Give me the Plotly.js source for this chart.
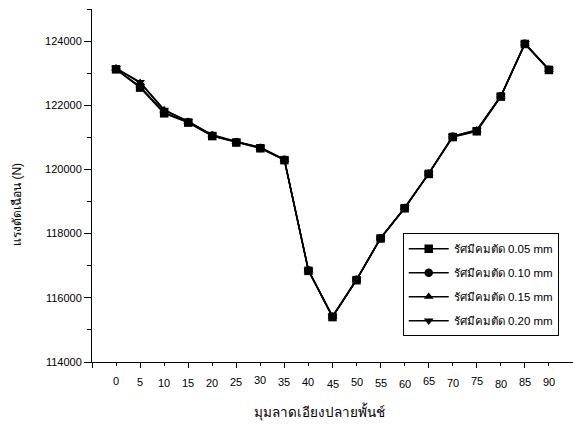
<!DOCTYPE html>
<html>
<head>
<meta charset="utf-8">
<script src="https://cdn.plot.ly/plotly-3.0.1.min.js"></script>
<style>
  html, body { margin: 0; padding: 0; background: #fff; }
  #chart { width: 573px; height: 430px; }
</style>
</head>
<body>
<div id="chart"></div>
<script>
// Punch bevel angle (degrees)
const angles = [0, 5, 10, 15, 20, 25, 30, 35, 40, 45, 50, 55, 60, 65, 70, 75, 80, 85, 90];
const angleLabels = ['0', '5', '10', '15', '20', '25', '30', '35', '40', '45', '50', '55', '60', '65', '70', '75', '80', '85', '90'];

// Shearing force (N) for each cutting-edge radius
const force005 = [123120, 122550, 121750, 121460, 121040, 120840, 120660, 120290, 116840, 115400, 116550, 117850, 118790, 119860, 121010, 121190, 122270, 123910, 123100];
const force010 = [123130, 122580, 121780, 121470, 121050, 120850, 120670, 120300, 116850, 115410, 116560, 117860, 118800, 119870, 121020, 121200, 122280, 123920, 123110];
const force015 = [123150, 122700, 121850, 121490, 121070, 120860, 120680, 120300, 116860, 115420, 116570, 117860, 118800, 119870, 121030, 121220, 122280, 123920, 123110];
const force020 = [123160, 122720, 121860, 121500, 121080, 120870, 120690, 120310, 116860, 115420, 116570, 117870, 118810, 119880, 121040, 121230, 122290, 123930, 123120];

const seriesNames = ['รัศมีคมตัด 0.05 mm', 'รัศมีคมตัด 0.10 mm', 'รัศมีคมตัด 0.15 mm', 'รัศมีคมตัด 0.20 mm'];
const seriesValues = [force005, force010, force015, force020];
const symbols = ['square', 'circle', 'triangle-up', 'triangle-down'];

// small vertical nudges of the hand-placed angle labels (px)
const labelNudge = [0, 0.7, 1.8, 1.8, 1.8, 1.1, -1.1, 1.1, 0.7, 2.6, 0.7, 2.2, 2.6, 0, 2.2, 0, 2.9, 0.7, 0.7];

const FONT = 'Arial, "Liberation Sans", "Noto Sans", sans-serif';

const traces = seriesValues.map((vals, i) => ({
  type: 'scatter',
  mode: 'lines+markers',
  x: angles,
  y: vals,
  name: seriesNames[i],
  legendgroup: 'g' + i,
  line: { color: '#000', width: 1.5 },
  marker: { symbol: symbols[i], size: 8.5, color: '#000' }
}));

const annotations = angles.map((a, i) => ({
  x: a, xref: 'x', y: 0, yref: 'paper',
  text: angleLabels[i], showarrow: false,
  xanchor: 'center', yanchor: 'middle',
  yshift: -(19 + labelNudge[i]),
  font: { family: FONT, size: 11, color: '#000' }
}));

annotations.push({
  x: 0, xref: 'paper', xshift: -75, y: 0.445, yref: 'paper',
  text: 'แรงตัดเฉือน (N)', textangle: -90, showarrow: false,
  xanchor: 'center', yanchor: 'middle',
  font: { family: FONT, size: 12, color: '#000' }
});
annotations.push({
  x: 0.473, xref: 'paper', y: 0, yref: 'paper', yshift: -49,
  text: 'มุมลาดเอียงปลายพั้นช์', showarrow: false,
  xanchor: 'center', yanchor: 'middle',
  font: { family: FONT, size: 13.5, color: '#000' }
});

const layout = {
  width: 573, height: 430,
  margin: { l: 92, r: 0, t: 9, b: 68 },
  paper_bgcolor: '#fff', plot_bgcolor: '#fff',
  font: { family: FONT, size: 11, color: '#000' },
  showlegend: true,
  legend: {
    x: 0.646, y: 0.365, xanchor: 'left', yanchor: 'top',
    bordercolor: '#000', borderwidth: 1, bgcolor: '#fff',
    traceorder: 'grouped', tracegroupgap: 5, itemwidth: 40,
    font: { family: FONT, size: 11.5, color: '#000' }
  },
  xaxis: {
    range: [-5, 95], showgrid: false, zeroline: false,
    showline: true, linecolor: '#000', linewidth: 1,
    tickmode: 'linear', tick0: -5, dtick: 10,
    ticks: 'outside', ticklen: 5, tickcolor: '#000', tickwidth: 1,
    showticklabels: false,
    minor: { tick0: -5, dtick: 5, ticks: 'outside', ticklen: 3, tickcolor: '#000', showgrid: false }
  },
  yaxis: {
    range: [114000, 125000], showgrid: false, zeroline: false,
    showline: true, linecolor: '#000', linewidth: 1,
    tickmode: 'linear', tick0: 114000, dtick: 2000, tickformat: 'd',
    ticks: 'outside', ticklen: 7, tickcolor: '#000', tickwidth: 1,
    tickfont: { family: FONT, size: 11, color: '#000' },
    minor: { tick0: 114000, dtick: 1000, ticks: 'outside', ticklen: 4, tickcolor: '#000', showgrid: false }
  },
  annotations: annotations
};

Plotly.newPlot('chart', traces, layout, { displayModeBar: false, staticPlot: true });
</script>
</body>
</html>
